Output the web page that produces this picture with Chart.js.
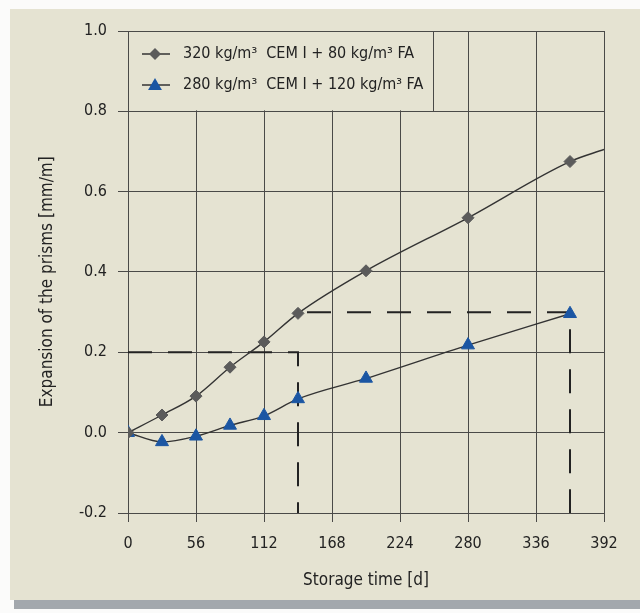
<!DOCTYPE html>
<html>
<head>
<meta charset="utf-8">
<script src="https://cdn.jsdelivr.net/npm/chart.js@4.4.1/dist/chart.umd.min.js"></script>
<style>
  html, body { margin: 0; padding: 0; background: #fbfbfa; }
  #wrap { position: relative; width: 640px; height: 613px; overflow: hidden; }
  #card { position: absolute; left: 10px; top: 9px; width: 630px; height: 591px; background: #e5e3d2; }
  #shadow { position: absolute; left: 14px; top: 600px; width: 626px; height: 9px; background: #a3a8ad; }
  #box { position: absolute; left: 0; top: 0; width: 640px; height: 613px; }
</style>
</head>
<body>
<div id="wrap">
  <div id="card"></div>
  <div id="shadow"></div>
  <div id="box"><canvas id="chart"></canvas></div>
</div>
<script>
// dati
const xTicks = [0, 56, 112, 168, 224, 280, 336, 392];
const yTicks = [-0.2, 0.0, 0.2, 0.4, 0.6, 0.8, 1.0];

const fa80Days = [0, 28, 56, 84, 112, 140, 196, 280, 364, 392];
const fa80Vals = [0, 0.044, 0.091, 0.163, 0.226, 0.297, 0.403, 0.535, 0.675, 0.705];

const fa120Days = [0, 28, 56, 84, 112, 140, 196, 280, 364];
const fa120Vals = [0, -0.023, -0.009, 0.018, 0.042, 0.084, 0.135, 0.218, 0.296];

// linee tratteggiate di lettura
const guideADays = [0, 140, 140];
const guideAVals = [0.2, 0.2, -0.2];
const guideBDays = [140, 364, 364];
const guideBVals = [0.3, 0.3, -0.2];

const labelFa80  = '320 kg/m³  CEM I + 80 kg/m³ FA';
const labelFa120 = '280 kg/m³  CEM I + 120 kg/m³ FA';

const FONT = "'DejaVu Sans Condensed', 'DejaVu Sans', sans-serif";
const GRID = '#4a4a48';
const INK  = '#222222';
const BLUE = '#1b56a3';
const GREY = '#5b5b5b';

const pts = (xs, ys) => xs.map((x, i) => ({ x, y: ys[i] }));

Chart.defaults.font.family = FONT;
Chart.defaults.font.size = 16;
Chart.defaults.color = INK;

function diamond(ctx, cx, cy, r){ // rombo per legenda
  ctx.beginPath();
  ctx.moveTo(cx, cy - r); ctx.lineTo(cx + r, cy); ctx.lineTo(cx, cy + r); ctx.lineTo(cx - r, cy);
  ctx.closePath(); ctx.fill();
}
function triangle(ctx, cx, cy, r){ // triangolo per legenda
  ctx.beginPath();
  ctx.moveTo(cx, cy - r);
  ctx.lineTo(cx + r * 0.866, cy + r * 0.5);
  ctx.lineTo(cx - r * 0.866, cy + r * 0.5);
  ctx.closePath(); ctx.fill();
}

const legendBox = { // legenda dentro il riquadro in alto a sinistra
  id: 'legendBox',
  beforeDatasetsDraw(chart){
    const { ctx, scales: { x, y } } = chart;
    const left = x.getPixelForValue(0), top = y.getPixelForValue(1.0);
    const bottom = y.getPixelForValue(0.8), right = left + 305;
    ctx.save();
    ctx.fillStyle = '#e5e3d2';
    ctx.fillRect(left + 1, top + 1, right - left - 1, bottom - top - 2);
    ctx.strokeStyle = GRID; ctx.lineWidth = 1;
    ctx.beginPath(); ctx.moveTo(right + 0.5, top); ctx.lineTo(right + 0.5, bottom); ctx.stroke();

    const rows = [
      { label: labelFa80, y: top + 23, draw: (cx, cy) => { ctx.fillStyle = GREY; diamond(ctx, cx, cy, 6); } },
      { label: labelFa120, y: top + 54, draw: (cx, cy) => { ctx.fillStyle = BLUE; triangle(ctx, cx, cy + 1, 8); } }
    ];
    rows.forEach(r => {
      ctx.strokeStyle = '#333'; ctx.lineWidth = 1.5;
      ctx.beginPath(); ctx.moveTo(left + 14, r.y); ctx.lineTo(left + 42, r.y); ctx.stroke();
      r.draw(left + 27, r.y);
      ctx.fillStyle = INK;
      ctx.font = `16px ${FONT}`;
      ctx.textBaseline = 'middle';
      ctx.fillText(r.label, left + 55, r.y);
    });
    ctx.restore();
  }
};

const guide = (data, offset) => ({
  data, showLine: true, pointRadius: 0, borderColor: '#222', borderWidth: 2,
  borderDash: [24, 16], borderDashOffset: offset, fill: false, tension: 0, order: 3
});

new Chart(document.getElementById('chart'), {
  type: 'scatter',
  data: {
    datasets: [
      guide(pts(guideADays, guideAVals), 0),
      guide(pts(guideBDays, guideBVals), 31),
      {
        label: labelFa80, data: pts(fa80Days, fa80Vals), showLine: true,
        borderColor: '#333', borderWidth: 1.4, cubicInterpolationMode: 'monotone',
        pointStyle: 'rectRot', backgroundColor: GREY, pointBorderColor: GREY, pointBorderWidth: 1,
        pointRadius: c => c.dataIndex === fa80Days.length - 1 ? 0 : 6, order: 1
      },
      {
        label: labelFa120, data: pts(fa120Days, fa120Vals), showLine: true,
        borderColor: '#333', borderWidth: 1.4, cubicInterpolationMode: 'monotone',
        pointStyle: 'triangle', backgroundColor: BLUE, pointBorderColor: BLUE, pointBorderWidth: 1,
        pointRadius: 7.5, order: 2
      }
    ]
  },
  options: {
    responsive: true, maintainAspectRatio: false, animation: false,
    layout: { padding: { left: 10, top: 31, right: 36, bottom: 13 } },
    plugins: { legend: { display: false }, tooltip: { enabled: false } },
    scales: {
      x: {
        type: 'linear', min: 0, max: 392,
        afterBuildTicks: s => { s.ticks = xTicks.map(v => ({ value: v })); },
        afterFit: s => { s.height = 87; },
        ticks: { padding: 12, color: INK, callback: v => String(v) },
        grid: { color: GRID, lineWidth: 1, tickLength: 9 },
        border: { color: GRID, width: 1 },
        title: { display: true, text: 'Storage time [d]', color: INK, font: { size: 17 }, padding: { top: 0, bottom: 9 } }
      },
      y: {
        type: 'linear', min: -0.2, max: 1.0,
        afterBuildTicks: s => { s.ticks = yTicks.map(v => ({ value: v })); },
        afterFit: s => { s.width = 118; },
        ticks: { padding: 11, color: INK, callback: v => Number(v).toFixed(1) },
        grid: { color: GRID, lineWidth: 1, tickLength: 10 },
        border: { color: GRID, width: 1 },
        title: { display: true, text: 'Expansion of the prisms [mm/m]    ', color: INK, font: { size: 17 }, padding: { top: 27, bottom: 0 } }
      }
    }
  },
  plugins: [legendBox]
});
</script>
</body>
</html>
